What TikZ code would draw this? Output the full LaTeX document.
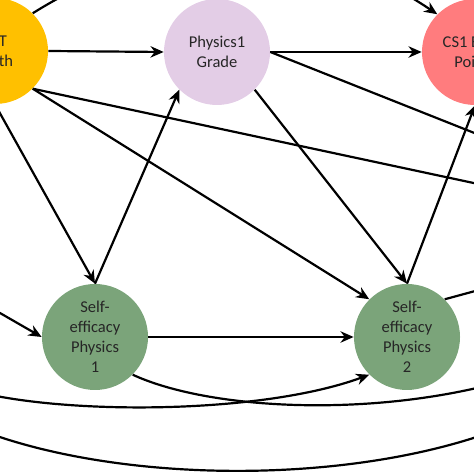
\documentclass[tikz,border=0pt]{standalone}
\usepackage{fontspec}
\setmainfont{Carlito}
\usetikzlibrary{arrows.meta}
\usepackage{xcolor}
\definecolor{mathgold}{HTML}{FFC000}
\definecolor{physlilac}{HTML}{E3CDE6}
\definecolor{csred}{HTML}{FF7C7E}
\definecolor{effgreen}{HTML}{7BA47A}

\begin{document}
\begin{tikzpicture}[
  factor/.style={circle, minimum size=2.12cm, inner sep=0pt, align=center, font=\fontsize{9.4}{11.4}\selectfont, text=black!85},
  wire/.style={line width=1.25pt},
  link/.style={wire, -{Stealth[length=7.5pt,width=6.5pt]}}
]
  \useasboundingbox (0,0) rectangle (9.48,9.48);
  \clip (0,0) rectangle (9.48,9.48);

  \node[factor, fill=mathgold] (math) at (-0.10,8.46) {SAT\\Math};
  \node[factor, fill=physlilac] (phys) at (4.34,8.44) {Physics1\\Grade};
  \node[factor, fill=csred] (cs) at (9.50,8.44) {CS1 Exam\\Points};

  \node[factor, fill=effgreen] (se1) at (1.90,2.74) {Self-\\efficacy\\Physics\\1};
  \node[factor, fill=effgreen] (se2) at (8.14,2.74) {Self-\\efficacy\\Physics\\2};

  % ends outside the crop
  \coordinate (eastA) at (11.2,6.14);
  \coordinate (eastB) at (11.2,5.45);
  \coordinate (eastC) at (11.2,4.12);
  \coordinate (eastD) at (11.2,2.24);
  \coordinate (eastE) at (11.2,1.48);
  \coordinate (westA) at (-1.6,4.14);
  \coordinate (westB) at (-0.6,1.68);
  \coordinate (westC) at (-1.6,1.48);

  \draw[link] (math.east) -- (phys.west);
  \draw[link] (phys.east) -- (cs.west);
  \draw[link] (math.north east) to[out=32,in=146] (cs.north west);

  \draw[link] (math.south) -- (se1.north);
  \draw[link] (math.south east) -- (se2.north west);
  \draw[wire] (math.south east) -- (eastB);
  \draw[wire] (phys.east) -- (eastA);
  \draw[link] (se1.north) -- (phys.south west);
  \draw[link] (phys.south east) -- (se2.north);
  \draw[link] (se2.north) -- (cs.south);

  \draw[link] (westA) -- (se1.west);
  \draw[link] (se1.east) -- (se2.west);
  \draw[wire] (se2.north east) -- (eastC);

  \draw[wire] (se1.south east) .. controls (4.4,1.18) and (8.4,1.08) .. (eastD);
  \draw[link] (westB) .. controls (1.2,1.18) and (5.2,1.18) .. (se2.south west);
  \draw[wire] (westC) .. controls (1.2,-0.36) and (8.0,-0.46) .. (eastE);
\end{tikzpicture}
\end{document}
